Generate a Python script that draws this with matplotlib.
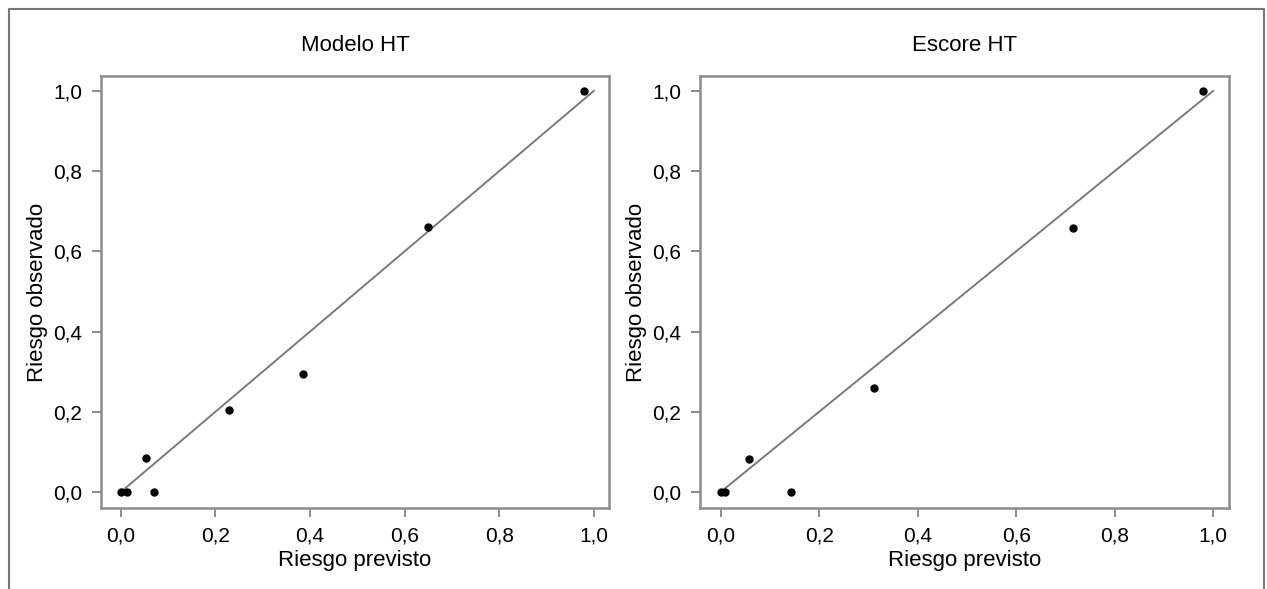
import numpy as np
import matplotlib.pyplot as plt
from matplotlib.lines import Line2D

plt.rcParams['font.family'] = ['Liberation Sans Narrow', 'Liberation Sans', 'DejaVu Sans']

titles = ['Modelo HT', 'Escore HT']
pred_modelo = [0.0, 0.012, 0.053, 0.07, 0.228, 0.386, 0.65, 0.98]
obs_modelo = [0.0, 0.0, 0.085, 0.0, 0.205, 0.295, 0.66, 1.0]
pred_escore = [0.0, 0.008, 0.058, 0.143, 0.311, 0.715, 0.98]
obs_escore = [0.0, 0.0, 0.082, 0.0, 0.26, 0.658, 1.0]
ticks = [0.0, 0.2, 0.4, 0.6, 0.8, 1.0]
tick_labels = ['0,0', '0,2', '0,4', '0,6', '0,8', '1,0']

fig = plt.figure(figsize=(12.67, 5.89), dpi=100)
W, H = 1267, 589
gray = '#8c8c8c'

# axes boxes in pixels: left, top, right, bottom
boxes = [(101, 76, 609, 508), (700, 76, 1229, 508)]
data = [(pred_modelo, obs_modelo), (pred_escore, obs_escore)]

for (l, t, r, b), (px, py), title in zip(boxes, data, titles):
    ax = fig.add_axes([l / W, 1 - b / H, (r - l) / W, (b - t) / H])
    ax.plot([0, 1], [0, 1], color='#7a7a7a', lw=1.4, zorder=1)
    ax.plot(px, py, 'o', color='black', ms=5, zorder=2)
    ax.set_xlim(-0.042, 1.032)
    ax.set_ylim(-0.04, 1.037)
    ax.set_xticks(ticks)
    ax.set_xticklabels(tick_labels)
    ax.set_yticks(ticks)
    ax.set_yticklabels(tick_labels)
    for s in ax.spines.values():
        s.set_color(gray)
        s.set_linewidth(1.8)
    ax.tick_params(length=6.5, width=1.4, color=gray, labelsize=15, pad=7)
    ax.set_xlabel('Riesgo previsto', fontsize=16, labelpad=3)
    ax.set_ylabel('Riesgo observado', fontsize=16, labelpad=4)
    ax.set_title(title, fontsize=16, pad=18)

# outer frame (top, left, right)
fig.add_artist(Line2D([9 / W, 9 / W, 1264 / W, 1264 / W],
                      [0, 1 - 9 / H, 1 - 9 / H, 0],
                      transform=fig.transFigure, color='#777777', lw=1.5))

fig.savefig('out.png', dpi=100)
